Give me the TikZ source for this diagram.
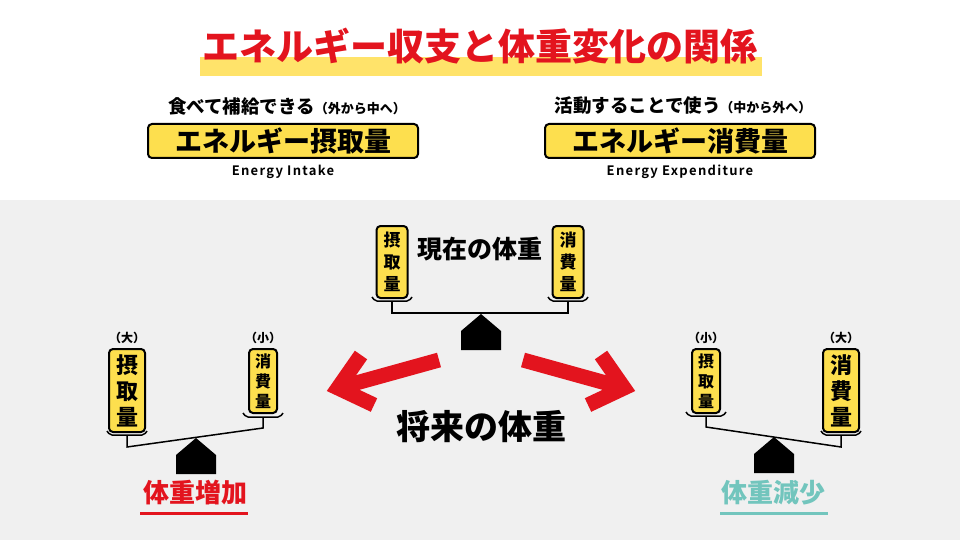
\documentclass[tikz,border=0pt]{standalone}
\usepackage{fontspec}
\usepackage{xcolor}
\usetikzlibrary{positioning}

\newfontfamily\jpblack{Noto Sans CJK JP Black}
\newfontfamily\jpbold{Noto Sans CJK JP Bold}[LetterSpace=10]

\definecolor{titlered}{HTML}{E3141E}
\definecolor{boxyellow}{HTML}{FDDF4E}
\definecolor{hiyellow}{HTML}{FFE36A}
\definecolor{bggray}{HTML}{F0F0F0}
\definecolor{losscol}{HTML}{72C5BD}

\tikzset{
  labelbox/.style={draw=black, line width=2pt, fill=boxyellow, rounded corners=4pt, inner sep=0pt},
  headbox/.style={labelbox, minimum width=270pt, minimum height=34pt, font=\jpblack\fontsize{27}{29}\selectfont},
  vbox/.style={labelbox, minimum width=30pt, minimum height=70pt, align=center, font=\jpblack\fontsize{17}{22}\selectfont},
  vboxbig/.style={labelbox, minimum width=36pt, minimum height=83pt, align=center, font=\jpblack\fontsize{22}{26}\selectfont},
  sizelabel/.style={inner sep=0pt, font=\jpblack\fontsize{12}{14}\selectfont},
  beam/.style={line width=1.5pt, black},
  bigarrow/.style={line width=15pt, titlered, line join=miter},
}

\begin{document}
\begin{tikzpicture}[x=1pt, y=-1pt]
% background
\fill[white] (0,0) rectangle (960,200);
\fill[bggray] (0,200) rectangle (960,540);
\useasboundingbox (0,0) rectangle (960,540);

% title
\fill[hiyellow] (200,57) rectangle (762,76);
\node[font=\jpblack\fontsize{37}{40}\selectfont, text=titlered] (title) at (480,46) {エネルギー収支と体重変化の関係};

% intake and expenditure
\node[headbox] (intake) at (283,141) {エネルギー摂取量};
\node[font=\jpblack\fontsize{18.5}{20}\selectfont] (intakenote) at (287,106) {食べて補給できる{\fontsize{13}{14}\selectfont（外から中へ）}};
\node[font=\jpbold\fontsize{13}{15}\selectfont] (intakeen) at (283,172) {Energy Intake};

\node[headbox] (spend) at (680,141) {エネルギー消費量};
\node[font=\jpblack\fontsize{18.5}{20}\selectfont] (spendnote) at (683,106) {活動することで使う{\fontsize{13}{14}\selectfont（中から外へ）}};
\node[font=\jpbold\fontsize{13}{15}\selectfont] (spenden) at (680,172) {Energy Expenditure};

% current weight
\node[vbox, minimum width=31pt, minimum height=72pt, anchor=north] (nowin) at (392,225) {摂\\取\\量};
\node[vbox, minimum width=31pt, minimum height=72pt, anchor=north] (nowout) at (568,225) {消\\費\\量};
\node[font=\jpblack\fontsize{25}{28}\selectfont] (now) at (480,249) {現在の体重};

% future weight
\node[font=\jpblack\fontsize{34}{38}\selectfont] (future) at (481,427) {将来の体重};

% gain side
\node[vboxbig, anchor=north] (gainin) at (127,348) {摂\\取\\量};
\node[vbox, minimum width=28pt, minimum height=64pt, font=\jpblack\fontsize{16}{20}\selectfont, anchor=north] (gainout) at (263,348) {消\\費\\量};
\node[sizelabel, above=4pt of gainin] (gainbig) {（大）};
\node[sizelabel, above=4pt of gainout] (gainsmall) {（小）};
\node[font=\jpblack\fontsize{26}{30}\selectfont, text=titlered] (gain) at (195,493) {体重増加};
\draw[titlered, line width=3pt] (140,513) -- (248,513);

% loss side
\node[vbox, minimum width=28pt, minimum height=64pt, font=\jpblack\fontsize{16}{20}\selectfont, anchor=north] (lossin) at (706,348) {摂\\取\\量};
\node[vboxbig, anchor=north] (lossout) at (841,348) {消\\費\\量};
\node[sizelabel, above=4pt of lossin] (losssmall) {（小）};
\node[sizelabel, above=4pt of lossout] (lossbig) {（大）};
\node[font=\jpblack\fontsize{26}{30}\selectfont, text=losscol] (loss) at (773,493) {体重減少};
\draw[losscol, line width=3pt] (720,513) -- (828,513);

% cradles under the boxes
\foreach \cx/\cy in {392/301, 568/301, 127/435, 263/417, 706/416, 841/435}
  \draw[beam, rounded corners=2pt] (\cx-20,\cy-4) -- (\cx-17,\cy) -- (\cx+17,\cy) -- (\cx+20,\cy-4);

% beams
\draw[beam] (392,301) -- (392,313) -- (568,313) -- (568,301);
\draw[beam] (127,435) -- (127,447) -- (263,428) -- (263,417);
\draw[beam] (706,416) -- (706,427) -- (841,447) -- (841,435);

% fulcrums
\foreach \fx/\fy in {481/314, 196/438, 774/437}
  \fill[black] (\fx,\fy) -- (\fx+20,\fy+17) -- (\fx+20,\fy+36) -- (\fx-20,\fy+36) -- (\fx-20,\fy+17) -- cycle;

% arrows
\draw[bigarrow] (439,360) -- (338,388);
\draw[bigarrow] (361,355) -- (338,388) -- (374,405);
\draw[bigarrow] (523,360) -- (624,388);
\draw[bigarrow] (601,355) -- (624,388) -- (588,405);
\end{tikzpicture}
\end{document}
